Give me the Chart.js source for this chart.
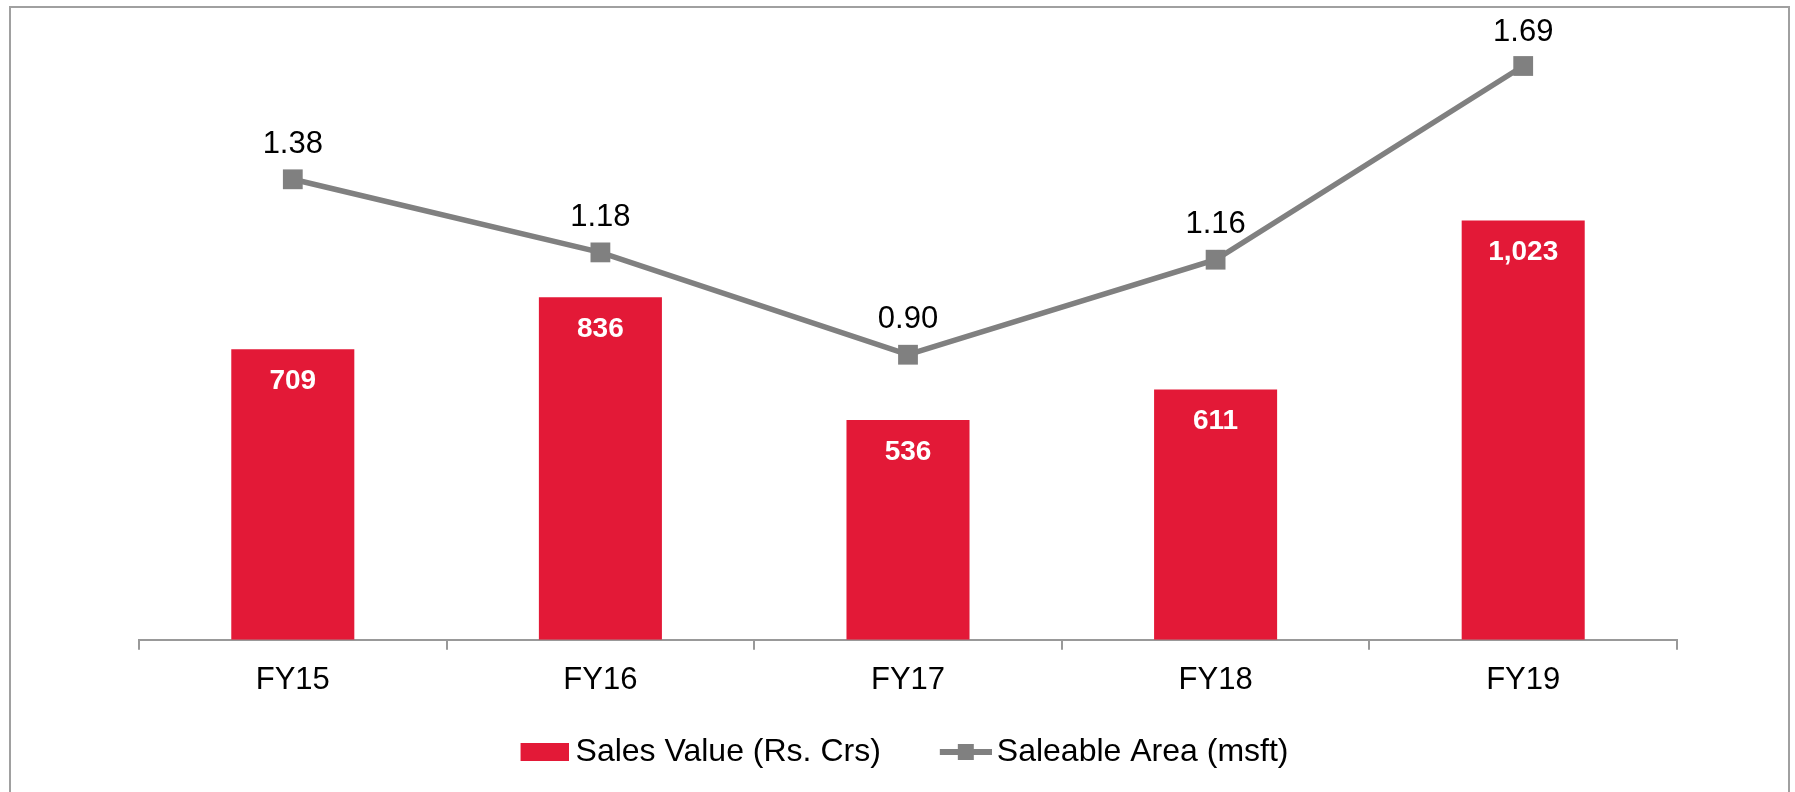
<!DOCTYPE html>
<html>
<head>
<meta charset="utf-8">
<script src="https://cdn.jsdelivr.net/npm/chart.js@4.4.1/dist/chart.umd.min.js"></script>
<style>
  html, body { margin: 0; padding: 0; background: #fff; }
  #wrap { position: relative; width: 1795px; height: 792px; overflow: hidden; }
  #frame { position: absolute; left: 9px; top: 6px; width: 1777px; height: 820px; border: 2px solid #a0a0a0; }
  #chart { position: absolute; left: 0; top: 0; }
</style>
</head>
<body>
<div id="wrap">
  <div id="frame"></div>
  <canvas id="chart" width="1795" height="792"></canvas>
</div>
<script>
// chart data
const categories = ['FY15', 'FY16', 'FY17', 'FY18', 'FY19'];
const salesValue = [709, 836, 536, 611, 1023];
const saleableArea = [1.38, 1.18, 0.90, 1.16, 1.69];

const RED = '#E31937';
const GREY = '#808080';
const AXIS = '#999999';
const FONT = '"Liberation Sans", Arial, sans-serif';

// legend symbols (Excel style), padded on the left so the text sits close
function barSymbol() {
    const c = document.createElement('canvas');
    c.width = 66; c.height = 18;
    const g = c.getContext('2d');
    g.fillStyle = RED;
    g.fillRect(18, 0, 48, 18);
    return c;
}
function lineSymbol() {
    const c = document.createElement('canvas');
    c.width = 70; c.height = 20;
    const g = c.getContext('2d');
    g.fillStyle = GREY;
    g.fillRect(18, 7, 52, 6);
    g.fillRect(36, 2, 16, 16);
    return c;
}
const symbols = [barSymbol(), lineSymbol()];

// value labels on bars and points
const valueLabels = {
    id: 'valueLabels',
    afterDatasetsDraw(chart) {
        const ctx = chart.ctx;
        ctx.save();
        ctx.textAlign = 'center';
        ctx.textBaseline = 'middle';
        ctx.fillStyle = '#ffffff';
        ctx.font = 'bold 28px ' + FONT;
        chart.getDatasetMeta(0).data.forEach(function(bar, i) {
            ctx.fillText(salesValue[i].toLocaleString('en-US'), bar.x, bar.y + 32);
        });
        ctx.fillStyle = '#000000';
        ctx.font = '31px ' + FONT;
        chart.getDatasetMeta(1).data.forEach(function(pt, i) {
            ctx.fillText(saleableArea[i].toFixed(2), pt.x, Math.max(pt.y - 35, 32));
        });
        ctx.restore();
    }
};

// put the legend row where the original has it
const legendPlace = {
    id: 'legendPlace',
    afterLayout(chart) {
        const lg = chart.legend;
        lg.top = 752 - lg.options.labels.padding - 16;
        lg.height = 110;
        lg.bottom = lg.top + lg.height;
        lg.left -= 14;
        lg.right -= 2;
    }
};

document.addEventListener('DOMContentLoaded', function() {
    const ctx = document.getElementById('chart');
    new Chart(ctx, {
        type: 'bar',
        data: {
            labels: categories,
            datasets: [
                {
                    type: 'bar',
                    label: 'Sales Value (Rs. Crs)',
                    data: salesValue,
                    backgroundColor: RED,
                    barPercentage: 0.4,
                    categoryPercentage: 1,
                    yAxisID: 'y',
                    order: 2
                },
                {
                    type: 'line',
                    label: 'Saleable Area (msft)',
                    data: saleableArea,
                    borderColor: GREY,
                    backgroundColor: GREY,
                    borderWidth: 5.5,
                    pointStyle: 'rect',
                    pointRadius: 14,
                    pointHoverRadius: 14,
                    pointBorderWidth: 0,
                    tension: 0,
                    yAxisID: 'y1',
                    order: 1,
                    clip: false
                }
            ]
        },
        options: {
            responsive: false,
            animation: false,
            devicePixelRatio: 1,
            layout: {
                padding: { left: 139, right: 118, top: 66, bottom: 2 }
            },
            plugins: {
                tooltip: { enabled: false },
                legend: {
                    position: 'bottom',
                    maxHeight: 79,
                    labels: {
                        usePointStyle: true,
                        pointStyleWidth: 48,
                        boxHeight: 18,
                        padding: 52,
                        color: '#000000',
                        font: { family: FONT, size: 32 },
                        generateLabels(chart) {
                            const items = Chart.defaults.plugins.legend.labels.generateLabels(chart);
                            items.forEach(function(it) {
                                it.pointStyle = symbols[it.datasetIndex];
                                it.lineWidth = 0;
                            });
                            return items.sort(function(a, b) { return a.datasetIndex - b.datasetIndex; });
                        }
                    }
                }
            },
            scales: {
                x: {
                    grid: {
                        display: true,
                        drawOnChartArea: false,
                        drawTicks: true,
                        tickLength: 10,
                        color: AXIS,
                        lineWidth: 2,
                        offset: true
                    },
                    border: { display: true, color: AXIS, width: 2 },
                    ticks: {
                        color: '#000000',
                        font: { family: FONT, size: 31 },
                        padding: 12
                    }
                },
                y: { display: false, min: 0, max: 1400 },
                y1: { display: false, position: 'right', min: 0.12, max: 1.69 }
            }
        },
        plugins: [valueLabels, legendPlace]
    });
});
</script>
</body>
</html>
